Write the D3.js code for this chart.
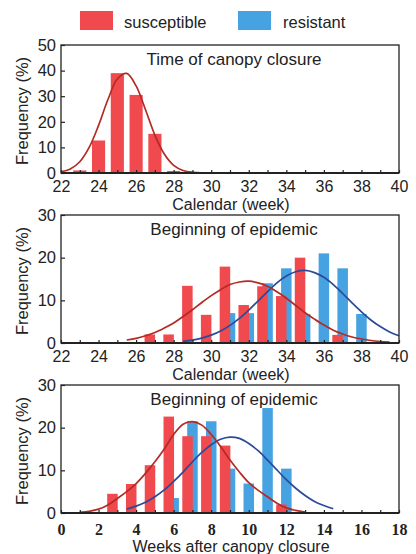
<!DOCTYPE html>
<html>
<head>
<meta charset="utf-8">
<script src="https://cdn.jsdelivr.net/npm/d3@7"></script>
<style>
  html, body { margin: 0; padding: 0; background: #fff; }
  svg { display: block; }
</style>
</head>
<body>
<svg id="chart" width="416" height="554"></svg>
<script>
// ---------------- DATA ----------------
const legendLabels = ["susceptible", "resistant"];

// Panel 1: Time of canopy closure (calendar week)
const p1Title = "Time of canopy closure";
const p1XLabel = "Calendar (week)";
const p1XTicks = [22, 24, 26, 28, 30, 32, 34, 36, 38, 40];
const p1YTicks = [0, 10, 20, 30, 40, 50];
const p1SuscWeeks = [23, 24, 25, 26, 27, 28];
const p1SuscFreq  = [1, 12.7, 39, 30.5, 15.3, 0.8];
const p1SuscCurve = [[22,0.5],[22.5,1.6],[23,4.4],[23.5,10],[24,18.6],[24.5,28.7],[25,36.7],[25.5,38.9],[26,34],[26.5,24.7],[27,14.8],[27.5,7.4],[28,3],[28.5,1],[29,0.3],[29.5,0.1]];

// Panel 2: Beginning of epidemic (calendar week)
const p2Title = "Beginning of epidemic";
const p2XLabel = "Calendar (week)";
const p2XTicks = [22, 24, 26, 28, 30, 32, 34, 36, 38, 40];
const p2YTicks = [0, 10, 20, 30];
const p2SuscWeeks = [27, 28, 29, 30, 31, 32, 33, 34, 35, 37];
const p2SuscFreq  = [2, 2, 13.4, 6.6, 17.9, 8.9, 13.3, 11, 20, 1.9];
const p2ResWeeks  = [31, 32, 33, 34, 35, 36, 37, 38];
const p2ResFreq   = [7, 7, 14, 17.5, 6.8, 21, 17.5, 6.8];
const p2SuscCurve = [[25.5,0.7],[26,1.1],[26.5,1.7],[27,2.45],[27.5,3.5],[28,4.7],[28.5,6.2],[29,7.8],[29.5,9.5],[30,11.1],[30.5,12.5],[31,13.7],[31.5,14.3],[32,14.5],[32.5,14.1],[33,13.3],[33.5,12],[34,10.5],[34.5,8.8],[35,7.1],[35.5,5.6],[36,4.2],[36.5,3],[37,2.1],[37.5,1.4],[38,0.93],[38.5,0.58],[39,0.35],[39.5,0.2]];
const p2ResCurve  = [[28.5,0.39],[29,0.69],[29.5,1.15],[30,1.85],[30.5,2.83],[31,4.14],[31.5,5.78],[32,7.73],[32.5,9.87],[33,12.05],[33.5,14.1],[34,15.7],[34.5,16.7],[35,17],[35.5,16.5],[36,15.4],[36.5,13.7],[37,11.6],[37.5,9.4],[38,7.3],[38.5,5.4],[39,3.85],[39.5,2.6],[40,1.7]];

// Panel 3: Beginning of epidemic (weeks after canopy closure)
const p3Title = "Beginning of epidemic";
const p3XLabel = "Weeks after canopy closure";
const p3XTicks = [0, 2, 4, 6, 8, 10, 12, 14, 16, 18];
const p3YTicks = [0, 10, 20, 30];
const p3SuscWeeks = [3, 4, 5, 6, 7, 8, 9, 12];
const p3SuscFreq  = [4.5, 6.8, 11.2, 22.6, 18, 18, 15.8, 2];
const p3ResWeeks  = [6, 7, 8, 9, 10, 11, 12];
const p3ResFreq   = [3.5, 21.5, 21.5, 10.4, 6.9, 24.6, 10.4];
const p3SuscCurve = [[1,0.15],[1.5,0.4],[2,0.9],[2.5,1.9],[3,3.4],[3.5,5],[4,6.9],[4.5,9.3],[5,12],[5.5,15],[6,18.4],[6.5,20.8],[7,21.4],[7.5,20.6],[8,18.4],[8.5,15.6],[9,12.4],[9.5,9.6],[10,7.1],[10.5,5.3],[11,3.8],[11.5,2.3],[12,1.2],[12.5,0.6],[13,0.2]];
const p3ResCurve  = [[3.5,0.9],[4,1.6],[4.5,2.5],[5,3.8],[5.5,5.4],[6,7.4],[6.5,9.6],[7,12],[7.5,14.2],[8,16],[8.5,17.3],[9,17.8],[9.5,17.5],[10,16.3],[10.5,14.6],[11,12.4],[11.5,10.1],[12,7.8],[12.5,5.8],[13,4.1],[13.5,2.7],[14,1.76],[14.5,1.0]];

// ---------------- STYLE ----------------
const RED_BAR = "#f0494e";
const BLUE_BAR = "#46a2e0";
const RED_LINE = "#b42a24";
const BLUE_LINE = "#2b4a98";
const INK = "#222";
const SANS = "'Liberation Sans', Arial, sans-serif";
const SERIF = "'Liberation Serif', 'Times New Roman', serif";

const svg = d3.select("#chart");

function txt(sel, size, family) {
  return sel.style("font-family", family || SANS).style("font-size", size + "px").style("fill", INK);
}

// Legend
const legend = svg.append("g");
legend.append("rect").attr("x", 80).attr("y", 11).attr("width", 33).attr("height", 19).attr("fill", RED_BAR);
txt(legend.append("text").attr("x", 124).attr("y", 28).text(legendLabels[0]), 16.5);
legend.append("rect").attr("x", 238).attr("y", 11).attr("width", 33).attr("height", 19).attr("fill", BLUE_BAR);
txt(legend.append("text").attr("x", 283).attr("y", 28).text(legendLabels[1]), 16.5);

function drawPanel(cfg) {
  const left = 61, right = 399;
  const x = d3.scaleLinear().domain(cfg.xDomain).range([left, right]);
  const y = d3.scaleLinear().domain(cfg.yDomain).range([cfg.bottom, cfg.top]);
  const g = svg.append("g");

  const bw = x(cfg.xDomain[0] + cfg.barWidth) - x(cfg.xDomain[0]);
  // resistant bars (behind)
  if (cfg.resWeeks) {
    g.selectAll(null).data(d3.zip(cfg.resWeeks, cfg.resFreq)).join("rect")
      .attr("x", d => x(d[0]) - bw / 2)
      .attr("width", bw)
      .attr("y", d => y(d[1]))
      .attr("height", d => y(0) - y(d[1]))
      .attr("fill", BLUE_BAR);
  }
  // susceptible bars (front)
  g.selectAll(null).data(d3.zip(cfg.suscWeeks, cfg.suscFreq)).join("rect")
    .attr("x", d => x(d[0] + cfg.suscOffset) - bw / 2)
    .attr("width", bw)
    .attr("y", d => y(d[1]))
    .attr("height", d => y(0) - y(d[1]))
    .attr("fill", RED_BAR);

  const line = d3.line().x(d => x(d[0])).y(d => y(d[1])).curve(d3.curveCatmullRom);
  if (cfg.resCurve) {
    g.append("path").attr("d", line(cfg.resCurve)).attr("fill", "none")
      .attr("stroke", BLUE_LINE).attr("stroke-width", 1.7);
  }
  g.append("path").attr("d", line(cfg.suscCurve)).attr("fill", "none")
    .attr("stroke", RED_LINE).attr("stroke-width", 1.7);

  // frame
  g.append("rect").attr("x", left).attr("y", cfg.top)
    .attr("width", right - left).attr("height", cfg.bottom - cfg.top)
    .attr("fill", "none").attr("stroke", INK).attr("stroke-width", 1.3);
  g.append("line").attr("x1", left).attr("x2", right).attr("y1", cfg.bottom).attr("y2", cfg.bottom)
    .attr("stroke", INK).attr("stroke-width", 2);

  // x axis minor ticks (inside, every week)
  const xAxis = d3.axisBottom(x).tickValues(d3.range(cfg.xDomain[0], cfg.xDomain[1] + 1, 1))
    .tickSize(-3).tickFormat("");
  const xa = g.append("g").attr("transform", `translate(0,${cfg.bottom})`).call(xAxis);
  xa.select(".domain").remove();
  xa.selectAll(".tick line").attr("stroke", INK).attr("stroke-width", 1.2);

  // x tick labels
  const xLab = d3.axisBottom(x).tickValues(cfg.xTicks).tickSize(0).tickPadding(0);
  const xl = g.append("g").attr("transform", `translate(0,${cfg.bottom})`).call(xLab);
  xl.select(".domain").remove();
  const xt = xl.selectAll(".tick text").attr("y", cfg.tickLabelDy).attr("dy", null);
  txt(xt, 16, cfg.serifTicks ? SERIF : SANS);
  if (cfg.serifTicks) xt.style("font-weight", "bold");

  // y axis
  const yAxis = d3.axisLeft(y).tickValues(cfg.yTicks).tickSize(-4).tickPadding(5);
  const ya = g.append("g").attr("transform", `translate(${left},0)`).call(yAxis);
  ya.select(".domain").remove();
  ya.selectAll(".tick line").attr("stroke", INK).attr("stroke-width", 1.2);
  txt(ya.selectAll(".tick text"), 16.5);

  // titles
  txt(g.append("text").attr("x", 234).attr("y", cfg.top + 20).attr("text-anchor", "middle")
    .text(cfg.title), 17);
  txt(g.append("text").attr("x", 231).attr("y", cfg.xLabelY).attr("text-anchor", "middle")
    .text(cfg.xLabel), 16);
  txt(g.append("text")
    .attr("transform", `translate(28,${(cfg.top + cfg.bottom) / 2 + 2}) rotate(-90)`)
    .attr("text-anchor", "middle").text("Frequency (%)"), 16.5);
}

drawPanel({
  xDomain: [22, 40], yDomain: [0, 50], top: 45, bottom: 173,
  xTicks: p1XTicks, yTicks: p1YTicks, barWidth: 0.7, suscOffset: 0,
  suscWeeks: p1SuscWeeks, suscFreq: p1SuscFreq, suscCurve: p1SuscCurve,
  title: p1Title, xLabel: p1XLabel, xLabelY: 210, tickLabelDy: 19
});
drawPanel({
  xDomain: [22, 40], yDomain: [0, 30], top: 215, bottom: 343,
  xTicks: p2XTicks, yTicks: p2YTicks, barWidth: 0.56, suscOffset: -0.27,
  suscWeeks: p2SuscWeeks, suscFreq: p2SuscFreq, suscCurve: p2SuscCurve,
  resWeeks: p2ResWeeks, resFreq: p2ResFreq, resCurve: p2ResCurve,
  title: p2Title, xLabel: p2XLabel, xLabelY: 380, tickLabelDy: 19
});
drawPanel({
  xDomain: [0, 18], yDomain: [0, 30], top: 385, bottom: 513,
  xTicks: p3XTicks, yTicks: p3YTicks, barWidth: 0.56, suscOffset: -0.26,
  suscWeeks: p3SuscWeeks, suscFreq: p3SuscFreq, suscCurve: p3SuscCurve,
  resWeeks: p3ResWeeks, resFreq: p3ResFreq, resCurve: p3ResCurve,
  title: p3Title, xLabel: p3XLabel, xLabelY: 552, tickLabelDy: 22, serifTicks: true
});
</script>
</body>
</html>
